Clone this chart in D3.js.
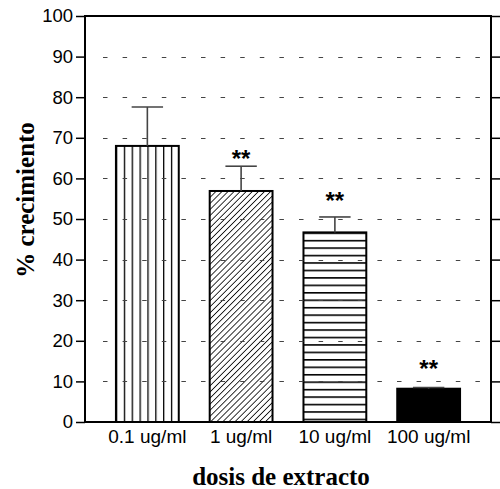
<!DOCTYPE html>
<html>
<head>
<meta charset="utf-8">
<script src="https://cdn.jsdelivr.net/npm/d3@7"></script>
<style>
  html, body { margin: 0; padding: 0; background: #fff; }
  svg { display: block; }
</style>
</head>
<body>
<svg id="chart" width="500" height="489"></svg>
<script>
// Growth (%) by extract dose
const categories = ["0.1 ug/ml", "1 ug/ml", "10 ug/ml", "100 ug/ml"];
const growth     = [68.0, 56.9, 46.7, 8.2];
const errUpper   = [77.6, 63.0, 50.5, 8.5];
const signif     = ["", "**", "**", "**"];
const signifAt   = [null, 65.2, 55.0, 13.6];
const fills      = ["vertical", "diagonal", "horizontal", "solid"];
const yTicks     = [0, 10, 20, 30, 40, 50, 60, 70, 80, 90, 100];
const gridTicks  = [10, 20, 30, 40, 50, 60, 70, 80, 90];

const svg = d3.select("#chart");
const plotL = 85, plotR = 491, plotT = 16, plotB = 422;

const x = d3.scaleBand().domain(categories).range([plotL, plotR])
  .paddingInner(0.33).paddingOuter(0.33);
const y = d3.scaleLinear().domain([0, 100]).range([plotB, plotT]);

const sans = "'Liberation Sans', Arial, sans-serif";
const serif = "'Liberation Serif', 'Times New Roman', serif";

// fill patterns, each anchored at its own bar
const defs = svg.append("defs");
categories.forEach((c, i) => {
  const bx = x(c), by = y(growth[i]), bw = x.bandwidth();
  if (fills[i] === "vertical") {
    const step = bw / 8;
    const p = defs.append("pattern").attr("id", "pat" + i)
      .attr("patternUnits", "userSpaceOnUse")
      .attr("x", bx).attr("y", 0).attr("width", step).attr("height", 10);
    p.append("line").attr("x1", 0).attr("x2", 0).attr("y1", 0).attr("y2", 10)
      .attr("stroke", "#000").attr("stroke-width", 2.6);
  } else if (fills[i] === "horizontal") {
    const step = 7.45;
    const p = defs.append("pattern").attr("id", "pat" + i)
      .attr("patternUnits", "userSpaceOnUse")
      .attr("x", 0).attr("y", by).attr("width", 10).attr("height", step);
    p.append("line").attr("x1", 0).attr("x2", 10).attr("y1", 0).attr("y2", 0)
      .attr("stroke", "#000").attr("stroke-width", 3.2);
  } else if (fills[i] === "diagonal") {
    const step = 4.3;
    const p = defs.append("pattern").attr("id", "pat" + i)
      .attr("patternUnits", "userSpaceOnUse")
      .attr("width", step).attr("height", step)
      .attr("patternTransform", `translate(${bx},${by}) rotate(45)`);
    p.append("line").attr("x1", 0).attr("x2", 0).attr("y1", 0).attr("y2", step)
      .attr("stroke", "#000").attr("stroke-width", 1.6);
  }
});

// bars
svg.append("g").selectAll("rect").data(categories).join("rect")
  .attr("x", d => x(d))
  .attr("y", (d, i) => y(growth[i]))
  .attr("width", x.bandwidth())
  .attr("height", (d, i) => y(0) - y(growth[i]))
  .attr("fill", (d, i) => fills[i] === "solid" ? "#000" : `url(#pat${i})`)
  .attr("stroke", "#000").attr("stroke-width", 2);

// dashed grid lines
svg.append("g").selectAll("line").data(gridTicks).join("line")
  .attr("x1", 103).attr("x2", 480)
  .attr("y1", d => Math.round(y(d)) + 0.5).attr("y2", d => Math.round(y(d)) + 0.5)
  .attr("stroke", "#444").attr("stroke-width", 1.2)
  .attr("stroke-dasharray", "4.5 15.1");

// upper error whiskers
const eb = svg.append("g").attr("stroke", "#444").attr("stroke-width", 1.6);
categories.forEach((c, i) => {
  const cx = x(c) + x.bandwidth() / 2, hw = x.bandwidth() / 4;
  eb.append("line").attr("x1", cx).attr("x2", cx)
    .attr("y1", y(growth[i])).attr("y2", y(errUpper[i]));
  eb.append("line").attr("x1", cx - hw).attr("x2", cx + hw)
    .attr("y1", y(errUpper[i])).attr("y2", y(errUpper[i]));
});

// significance marks
svg.append("g").selectAll("text").data(categories).join("text")
  .attr("x", d => x(d) + x.bandwidth() / 2)
  .attr("y", (d, i) => signifAt[i] == null ? 0 : y(signifAt[i]) + 10)
  .attr("text-anchor", "middle")
  .attr("font-family", sans).attr("font-weight", "bold").attr("font-size", 24)
  .text((d, i) => signif[i]);

// frame
const frame = svg.append("g").attr("stroke", "#000").attr("stroke-width", 2).attr("fill", "none");
frame.append("rect").attr("x", plotL).attr("y", plotT)
  .attr("width", plotR - plotL).attr("height", plotB - plotT);

// left axis
const yAxis = svg.append("g").attr("transform", `translate(${plotL},0)`)
  .call(d3.axisLeft(y).tickValues(yTicks).tickSize(9).tickPadding(3).tickFormat(d3.format("d")));
yAxis.select(".domain").remove();
yAxis.selectAll("line").attr("stroke", "#000").attr("stroke-width", 1.5);
yAxis.selectAll("text").attr("font-family", sans).attr("font-size", 18.5).attr("fill", "#000");

// right axis ticks
const yAxisR = svg.append("g").attr("transform", `translate(${plotR},0)`)
  .call(d3.axisRight(y).tickValues(yTicks).tickSize(10).tickFormat(""));
yAxisR.select(".domain").remove();
yAxisR.selectAll("line").attr("stroke", "#000").attr("stroke-width", 1.5);

// category labels
const xAxis = svg.append("g").attr("transform", `translate(0,${plotB})`)
  .call(d3.axisBottom(x).tickSize(0).tickPadding(8));
xAxis.select(".domain").remove();
xAxis.selectAll("text").attr("font-family", sans).attr("font-size", 19).attr("fill", "#000");

// axis titles
svg.append("text").attr("x", 281).attr("y", 485).attr("text-anchor", "middle")
  .attr("font-family", serif).attr("font-weight", "bold").attr("font-size", 25)
  .text("dosis de extracto");
svg.append("text").attr("transform", "translate(34,200) rotate(-90)")
  .attr("text-anchor", "middle")
  .attr("font-family", serif).attr("font-weight", "bold").attr("font-size", 25)
  .text("% crecimiento");
</script>
</body>
</html>
